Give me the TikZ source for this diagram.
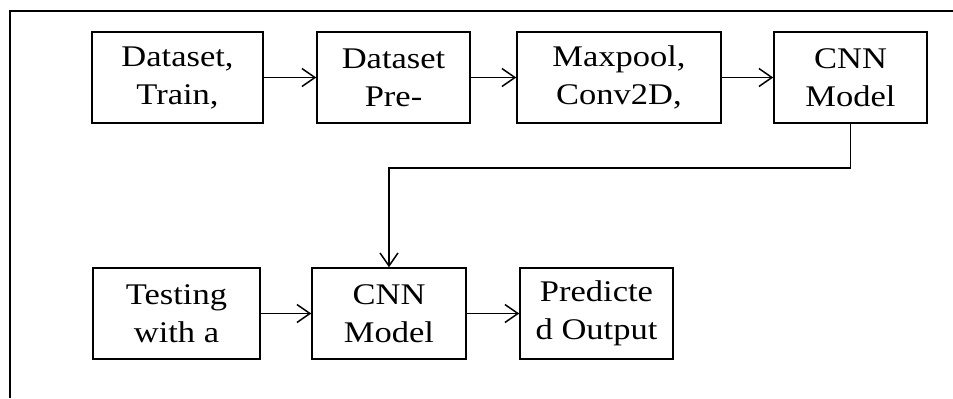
\documentclass[tikz,border=0pt]{standalone}
\usepackage{fontspec}
\setmainfont{Liberation Serif}[FakeStretch=1.15]
\usetikzlibrary{arrows.meta, positioning}

\tikzset{
	stage/.style={draw, line width=.75pt, align=center, minimum height=45.5pt, inner sep=0pt},
	flow/.style={->, >={Straight Barb[length=6.5pt, width=9pt]}, line width=.75pt},
}

\begin{document}
\begin{tikzpicture}[x=.5pt, y=-.5pt]
	\fontsize{15pt}{19pt}\selectfont
	\useasboundingbox (0,0) rectangle (953,398);
	\fill[white] (0,0) rectangle (953,398);
	% frame (cut off at the right and bottom)
	\draw[line width=1.25pt] (10,398) -- (10,11) -- (953,11);

	% training row
	\node[stage, minimum width=85.5pt] (data)  at (177.5,77.5) {Dataset,\\Train,};
	\node[stage, minimum width=76.5pt] (prep)  at (393.5,77.5) {Dataset\\Pre-};
	\node[stage, minimum width=102pt]  (layer) at (619,77.5)   {Maxpool,\\Conv2D,};
	\node[stage, minimum width=76.5pt] (model) at (850.5,77.5) {CNN\\Model};

	% testing row
	\node[stage, minimum width=83.5pt] (test)  at (176.5,313.5) {Testing\\with a};
	\node[stage, minimum width=77pt]   (cnn)   at (389,313.5)   {CNN\\Model};
	\node[stage, minimum width=76.5pt] (pred)  at (596.5,313.5) {Predicte\\d Output};

	\draw[flow] (data) -- (prep);
	\draw[flow] (prep) -- (layer);
	\draw[flow] (layer) -- (model);
	\draw[flow] (model.south) -- ++(0,44) -| (cnn.north);
	\draw[flow] (test) -- (cnn);
	\draw[flow] (cnn) -- (pred);
\end{tikzpicture}
\end{document}
